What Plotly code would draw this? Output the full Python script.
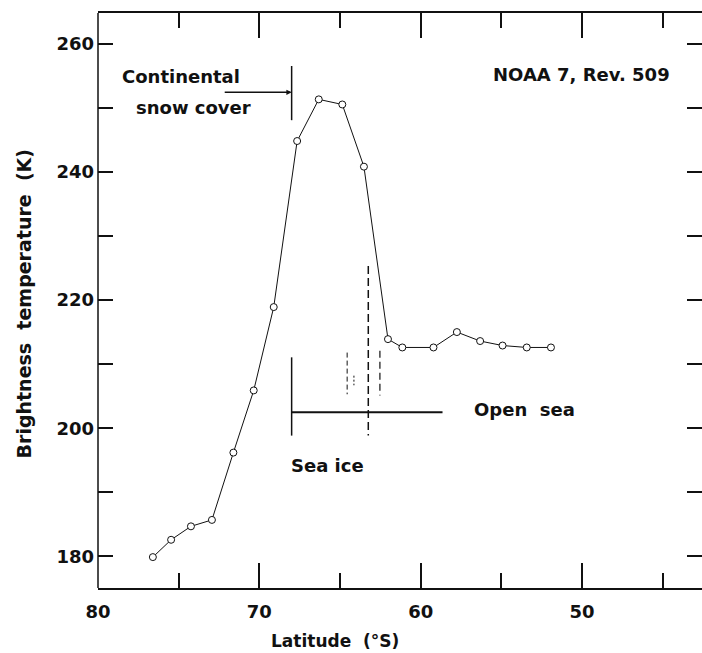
import plotly.graph_objects as go

# ---- data ----
latitude = [76.6, 75.47, 74.24, 72.94, 71.61, 70.35, 69.11, 67.66, 66.32, 64.86,
            63.52, 62.03, 61.14, 59.21, 57.76, 56.32, 54.93, 53.43, 51.93]
brightness_temp = [179.9, 182.6, 184.7, 185.7, 196.2, 205.9, 218.9, 244.8, 251.3, 250.5,
                   240.8, 213.9, 212.6, 212.6, 215.0, 213.6, 212.9, 212.6, 212.6]

x_major_ticks = [80, 70, 60, 50]
x_major_labels = ["80", "70", "60", "50"]
x_minor_ticks = [75, 65, 55, 45]
y_major_ticks = [180, 200, 220, 240, 260]
y_major_labels = ["180", "200", "220", "240", "260"]
y_minor_ticks = [190, 210, 230, 250]

FONT = "DejaVu Sans"
BLACK = "#111111"

fig = go.Figure()
fig.add_trace(go.Scatter(
    x=latitude, y=brightness_temp, mode="lines+markers",
    line=dict(color=BLACK, width=1),
    marker=dict(size=7, color="white", line=dict(color=BLACK, width=1)),
    showlegend=False, hoverinfo="skip",
))

# left frame line (the right-hand axis line lies outside the picture)
fig.add_shape(type="line", xref="paper", yref="paper", x0=0, x1=0, y0=0, y1=1,
              line=dict(color=BLACK, width=1.5))

# boundary markers (layout decorations)
def seg(x0, y0, x1, y1, width=1.5, dash="solid"):
    fig.add_shape(type="line", xref="x", yref="y", x0=x0, y0=y0, x1=x1, y1=y1,
                  line=dict(color=BLACK, width=width, dash=dash))

# continental snow cover boundary
seg(68.0, 256.5, 68.0, 248.05, 1.5)
fig.add_annotation(x=68.0, y=252.4, ax=72.24, ay=252.4, axref="x", ayref="y",
                   xref="x", yref="y", text="", showarrow=True, arrowhead=2,
                   arrowsize=0.7, arrowwidth=1.5, arrowcolor=BLACK)
# sea ice / open sea boundary
seg(68.0, 211.06, 68.0, 198.85, 1.5)
seg(68.0, 202.5, 58.65, 202.5, 2)
seg(63.25, 225.3, 63.25, 198.85, 1.5, "8px,4px")
seg(62.53, 212.1, 62.53, 205.1, 1.2, "7px,4px")
seg(64.56, 211.8, 64.56, 205.3, 1, "5px,3px")
seg(64.14, 208.2, 64.14, 206.7, 1, "2px,2px")

txtfont = dict(family=FONT, size=18, color=BLACK, weight="bold")
def label(text, x, y, xanchor="left"):
    fig.add_annotation(x=x, y=y, xref="x", yref="y", text=text, showarrow=False,
                       xanchor=xanchor, yanchor="middle", font=txtfont)

label("Continental", 78.63, 254.8)
label("snow\u00a0cover", 77.8, 250.0)
label("NOAA\u00a07,\u00a0Rev.\u00a0509", 44.43, 255.2, "right")
label("Sea\u00a0ice", 68.14, 194.2)
label("Open\u00a0\u00a0sea", 56.82, 203.0)

# axis titles
fig.add_annotation(x=0.392, y=-0.0922, xref="paper", yref="paper",
                   text="Latitude\u00a0\u00a0(\u00b0S)", showarrow=False,
                   xanchor="center", yanchor="middle",
                   font=dict(family=FONT, size=17, color=BLACK, weight="bold"))
fig.add_annotation(x=-0.1209, y=0.4948, xref="paper", yref="paper",
                   text="Brightness\u00a0\u00a0temperature\u00a0\u00a0(K)", showarrow=False,
                   textangle=-90, xanchor="center", yanchor="middle",
                   font=dict(family=FONT, size=19, color=BLACK, weight="bold"))

tickfont = dict(family=FONT, size=18, color=BLACK, weight="bold")
fig.update_xaxes(
    range=[80, 42.57], tickmode="array", tickvals=x_major_ticks, ticktext=x_major_labels,
    ticks="inside", ticklen=25, tickwidth=1.5, tickcolor=BLACK,
    showline=True, linewidth=1.5, linecolor=BLACK, mirror="ticks",
    showgrid=False, zeroline=False, tickfont=tickfont, ticklabelstandoff=7,
    minor=dict(tickmode="array", tickvals=x_minor_ticks, ticks="inside",
               ticklen=15, tickwidth=1.5, tickcolor=BLACK, showgrid=False),
)
fig.update_yaxes(
    range=[175.08, 264.77], tickmode="array", tickvals=y_major_ticks, ticktext=y_major_labels,
    ticks="inside", ticklen=15, tickwidth=1.5, tickcolor=BLACK,
    showline=False, mirror="ticks",
    showgrid=False, zeroline=False, tickfont=tickfont, ticklabelstandoff=3,
    minor=dict(tickmode="array", tickvals=y_minor_ticks, ticks="inside",
               ticklen=15, tickwidth=1.5, tickcolor=BLACK, showgrid=False),
)

fig.update_layout(
    width=702, height=653,
    margin=dict(l=98, r=0, t=13, b=65, pad=0),
    paper_bgcolor="white", plot_bgcolor="white",
    showlegend=False,
)

fig.write_html("out.html")
